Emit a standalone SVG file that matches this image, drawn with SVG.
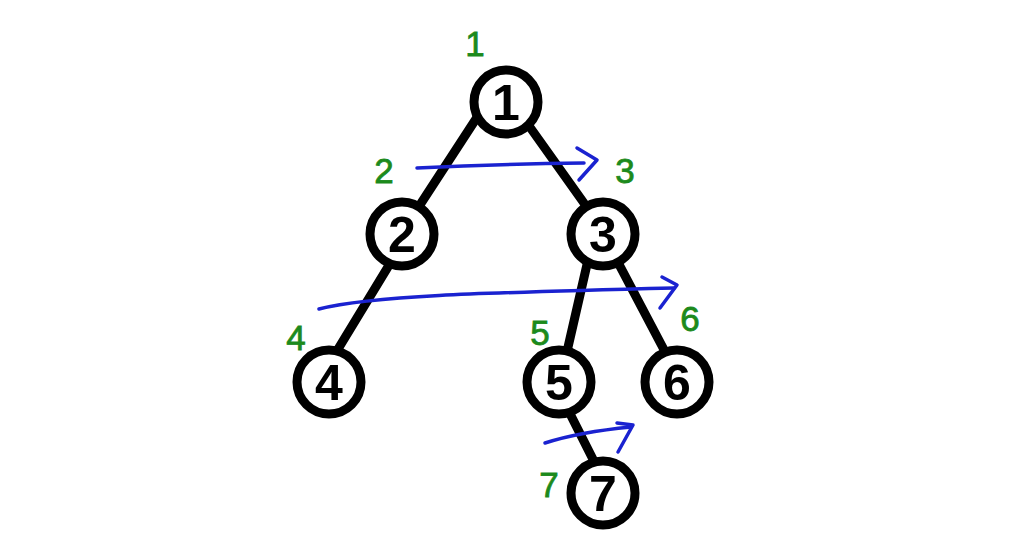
<svg xmlns="http://www.w3.org/2000/svg" width="1018" height="553" viewBox="0 0 1018 553">
<style>
.edge{stroke:#000;stroke-width:9;stroke-linecap:round;fill:none}
.node circle{fill:#fff;stroke:#000;stroke-width:9}
.node text{font-family:"Liberation Sans",Arial,sans-serif;font-weight:bold;font-size:50px;fill:#000;text-anchor:middle}
.ord{font-family:"Liberation Sans",Arial,sans-serif;font-size:35px;fill:#1c8a1c;stroke:#1c8a1c;stroke-width:0.8;text-anchor:middle}
.trav{stroke:#1a22d0;stroke-width:3.5;fill:none;stroke-linecap:round;stroke-linejoin:round}
</style>
<rect width="1018" height="553" fill="#fff"/>
<g id="connectors">
<line class="edge" x1="487" y1="102" x2="401" y2="234"/>
<line class="edge" x1="512" y1="102" x2="606" y2="234"/>
<line class="edge" x1="408" y1="234" x2="318" y2="382"/>
<line class="edge" x1="594" y1="234" x2="560" y2="382"/>
<line class="edge" x1="603" y1="234" x2="681" y2="382"/>
<line class="edge" x1="554" y1="382" x2="610" y2="493"/>
</g>
<g id="traversal">
<path class="trav" d="M417,168 Q500,164 584,163"/>
<path class="trav" d="M577,148 L597,160 L579,180"/>
<path class="trav" d="M319,309 C370,296 470,293 674,288"/>
<path class="trav" d="M662,277 L677,285 L660,308"/>
<path class="trav" d="M545,443 C570,435 600,430 631,427"/>
<path class="trav" d="M617,423 L633,425 L618,452"/>
</g>
<g id="node1" class="node"><circle cx="506" cy="102" r="32"/><text x="506" y="120">1</text></g>
<g id="node2" class="node"><circle cx="402" cy="234" r="32"/><text x="402" y="252">2</text></g>
<g id="node3" class="node"><circle cx="603" cy="234" r="32"/><text x="603" y="252">3</text></g>
<g id="node4" class="node"><circle cx="329" cy="382" r="32"/><text x="329" y="400">4</text></g>
<g id="node5" class="node"><circle cx="559" cy="382" r="32"/><text x="559" y="400">5</text></g>
<g id="node6" class="node"><circle cx="677" cy="382" r="32"/><text x="677" y="400">6</text></g>
<g id="node7" class="node"><circle cx="603" cy="493" r="32"/><text x="603" y="511">7</text></g>
<g id="order-labels">
<text class="ord" x="475" y="56">1</text>
<text class="ord" x="384" y="183">2</text>
<text class="ord" x="625" y="183">3</text>
<text class="ord" x="296" y="350">4</text>
<text class="ord" x="540" y="345">5</text>
<text class="ord" x="690" y="331">6</text>
<text class="ord" x="549" y="497">7</text>
</g>
</svg>
